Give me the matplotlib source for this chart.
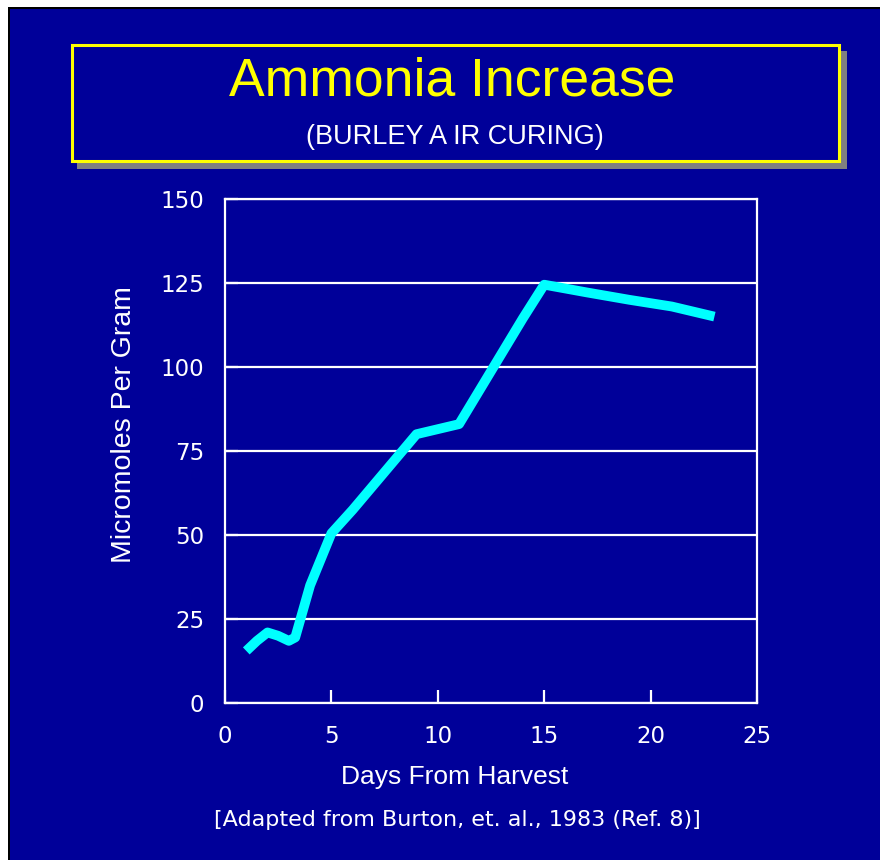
import matplotlib
matplotlib.use("Agg")
import matplotlib.pyplot as plt
from matplotlib.patches import Rectangle

# ---------------------------------------------------------------------------
# Data
# ---------------------------------------------------------------------------
days = [1, 1.5, 2, 2.5, 3, 3.3, 4, 5, 6, 7, 8, 9, 10, 11, 12, 13, 14, 15,
        17, 19, 21, 23]
ammonia = [15.5, 18.5, 21, 20, 18.5, 19.5, 35, 50.5, 57.5, 65, 72.5, 80,
           81.5, 83, 93.5, 104, 114.5, 124.5, 122.2, 120, 118, 115]

x_ticks = [0, 5, 10, 15, 20, 25]
y_ticks = [0, 25, 50, 75, 100, 125, 150]

TITLE = "Ammonia Increase"
SUBTITLE = "(BURLEY A IR CURING)"
X_LABEL = "Days From Harvest"
Y_LABEL = "Micromoles Per Gram"
SOURCE = "[Adapted from Burton, et. al., 1983 (Ref. 8)]"

# ---------------------------------------------------------------------------
# Style
# ---------------------------------------------------------------------------
W, H = 880, 860
BG = "#000099"
YELLOW = "#FFFF00"
CYAN = "#00FFFF"
SHADOW = "#808080"
FONT = "Liberation Sans"


def fx(px):
    return px / W


def fy(py):
    return 1 - py / H


def box(x0, y0, x1, y1, **kw):
    # rectangle given in pixel coords (origin top-left)
    return Rectangle((fx(x0), fy(y1)), fx(x1) - fx(x0), fy(y0) - fy(y1),
                     transform=fig.transFigure, **kw)


fig = plt.figure(figsize=(W / 100, H / 100), dpi=100, facecolor=BG)

# slide background: white margin top/left, black rule, blue panel
fig.patches.append(box(0, 0, W + 20, 7, facecolor="white", edgecolor="none", zorder=0))
fig.patches.append(box(0, 0, 8, H + 20, facecolor="white", edgecolor="none", zorder=0))
fig.patches.append(box(8, 7, W + 20, 9, facecolor="black", edgecolor="none", zorder=0))
fig.patches.append(box(8, 7, 10, H + 20, facecolor="black", edgecolor="none", zorder=0))

# title box with drop shadow
fig.patches.append(box(77, 51, 847, 169, facecolor=SHADOW, edgecolor="none", zorder=1))
fig.patches.append(box(71.5, 45.5, 838.5, 160.5, facecolor=BG, edgecolor=YELLOW,
                       linewidth=2.2, zorder=2))

fig.text(fx(452), fy(96), TITLE, color=YELLOW, fontsize=38.5, family=FONT,
         ha="center", va="baseline", zorder=3)
fig.text(fx(455), fy(144), SUBTITLE, color="white", fontsize=19.5, family=FONT,
         ha="center", va="baseline", zorder=3)

# ---------------------------------------------------------------------------
# Chart
# ---------------------------------------------------------------------------
ax = fig.add_axes([fx(225), fy(703), fx(757) - fx(225), fy(199) - fy(703)])
ax.set_facecolor("none")
ax.set_zorder(4)

ax.plot(days, ammonia, color=CYAN, linewidth=7, solid_capstyle="butt",
        solid_joinstyle="round", zorder=3)

ax.set_xlim(0, 25)
ax.set_ylim(0, 150)
ax.set_xticks(x_ticks)
ax.set_yticks(y_ticks)
ax.set_xticklabels([str(t) for t in x_ticks], family="DejaVu Sans")
ax.set_yticklabels([str(t) for t in y_ticks], family="DejaVu Sans")

ax.grid(axis="y", color="white", linewidth=1.6)
ax.set_axisbelow(True)
for s in ax.spines.values():
    s.set_color("white")
    s.set_linewidth(1.6)

ax.tick_params(axis="both", direction="in", color="white", labelcolor="white",
               length=9.5, width=1.6, labelsize=16.5)
ax.tick_params(axis="x", pad=16)
ax.tick_params(axis="y", pad=15)

fig.text(fx(124), fy(425), Y_LABEL, color="white", fontsize=20.5, family=FONT,
         rotation=90, ha="center", va="center")
fig.text(fx(455), fy(784), X_LABEL, color="white", fontsize=19, family=FONT,
         ha="center", va="baseline")
fig.text(fx(457), fy(826), SOURCE, color="white", fontsize=16,
         family="DejaVu Sans", ha="center", va="baseline")

fig.savefig("out.png", dpi=100, facecolor=BG)
